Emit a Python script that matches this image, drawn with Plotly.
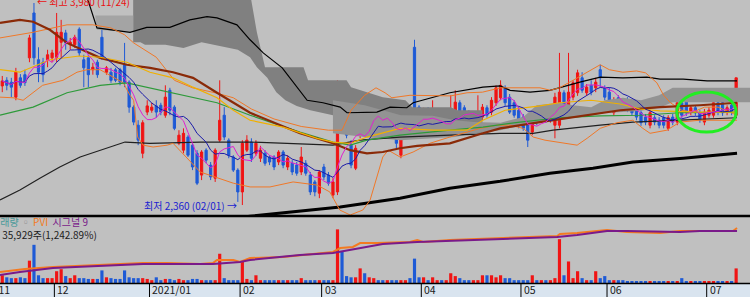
import plotly.graph_objects as go
import pandas as pd

# ---------------- price data (daily candles, index = trading day from 2020-11-13) ----------------
opens = [3315, 3360, 3345, 3225, 3380, 3405, 3540, 3900, 3525, 3505,
         3525, 3540, 3545, 3665, 3740, 3645, 3645, 3770, 3525, 3540,
         3445, 3505, 3705, 3425, 3425, 3445, 3445, 3485, 3345, 3145,
         3000, 2775, 3105, 3120, 3155, 3160, 3080, 3280, 3145, 2855,
         2800, 2905, 2840, 2775, 2600, 2800, 2680, 2575, 2880, 3080,
         2880, 2745, 2640, 2465, 2800, 2865, 2775, 2735, 2775, 2745,
         2745, 2705, 2785, 2665, 2695, 2680, 2625, 2695, 2600, 2545,
         2455, 2665, 2600, 2440, 2465, 3240, 2985, 2840, 2655, 2920,
         3180, 3025, 3060, 3100, 3060, 3000, 3060, 2920, 2760, 2920,
         3080, 3625, 3145, 3040, 3120, 2945, 2975, 3040, 2960, 2935,
         2985, 3180, 3140, 3100, 3020, 3020, 3065, 3140, 3105, 3180,
         3220, 3300, 3225, 3180, 3120, 3065, 3060, 2945, 3065, 3060,
         3065, 3040, 3000, 3000, 3260, 3145, 3225, 3260, 3380, 3260,
         3320, 3300, 3445, 3300, 3265, 3100, 3220, 3185, 3200, 3180,
         3140, 3100, 3065, 3000, 3060, 3040, 3060, 2975, 3065, 3025,
         3180, 3185, 3105, 3140, 3100, 3025, 3080, 3080, 3180, 3180,
         3105, 3160, 3080]
highs = [3395, 3385, 3380, 3460, 3410, 3445, 3725, 3980, 3625, 3540,
         3605, 3605, 3900, 3845, 3765, 3700, 3725, 3785, 3565, 3565,
         3500, 3525, 3780, 3475, 3460, 3460, 3460, 3660, 3360, 3160,
         3040, 3040, 3200, 3180, 3200, 3180, 3320, 3300, 3160, 2960,
         2975, 2920, 2855, 2800, 2800, 2815, 2705, 2815, 3360, 3145,
         2895, 2760, 2655, 2880, 2920, 2895, 2880, 2835, 2800, 2760,
         2760, 2800, 2800, 2760, 2720, 2705, 2825, 2720, 2625, 2560,
         2640, 2690, 2625, 2575, 3360, 3340, 3040, 2880, 2840, 3160,
         3200, 3155, 3140, 3120, 3080, 3105, 3080, 2960, 2960, 3080,
         3105, 3685, 3160, 3140, 3145, 3200, 3065, 3065, 3025, 3240,
         3280, 3200, 3160, 3120, 3105, 3240, 3170, 3160, 3225, 3320,
         3360, 3320, 3250, 3200, 3145, 3090, 3080, 3105, 3090, 3120,
         3090, 3105, 3260, 3580, 3280, 3580, 3360, 3445, 3425, 3330,
         3360, 3380, 3485, 3320, 3300, 3225, 3240, 3210, 3225, 3200,
         3160, 3120, 3090, 3120, 3080, 3065, 3080, 3080, 3090, 3200,
         3200, 3210, 3160, 3160, 3120, 3130, 3145, 3200, 3200, 3200,
         3160, 3185, 3380]
lows = [3265, 3280, 3225, 3200, 3300, 3315, 3505, 3485, 3345, 3345,
        3465, 3505, 3505, 3540, 3605, 3605, 3620, 3555, 3305, 3305,
        3405, 3380, 3525, 3405, 3340, 3345, 3320, 3305, 3100, 3000,
        2840, 2735, 3080, 3100, 3060, 3080, 3060, 3080, 2960, 2840,
        2775, 2745, 2640, 2520, 2560, 2695, 2560, 2545, 2865, 2880,
        2735, 2625, 2385, 2360, 2785, 2705, 2755, 2705, 2675, 2680,
        2640, 2680, 2655, 2640, 2600, 2595, 2600, 2595, 2440, 2430,
        2415, 2560, 2515, 2415, 2440, 3060, 2895, 2655, 2640, 2895,
        2960, 3000, 3025, 2975, 2945, 2975, 2935, 2815, 2735, 2895,
        2945, 3060, 2975, 3020, 3025, 2920, 2945, 2915, 2935, 2915,
        2920, 3080, 3040, 3020, 2995, 2975, 3040, 3060, 3080, 3155,
        3200, 3155, 3090, 3060, 2975, 2955, 2825, 2920, 3000, 3035,
        3020, 3020, 2895, 2975, 3140, 3120, 3200, 3235, 3260, 3235,
        3240, 3265, 3305, 3200, 3180, 3075, 3140, 3120, 3105, 3075,
        3040, 2995, 3000, 2975, 3000, 2975, 2975, 2955, 3000, 3000,
        3060, 3075, 3080, 3075, 3020, 3000, 3060, 3060, 3080, 3075,
        3080, 3080, 3060]
closes = [3355, 3320, 3305, 3425, 3320, 3340, 3700, 3540, 3425, 3405,
          3565, 3580, 3745, 3745, 3660, 3665, 3705, 3580, 3460, 3405,
          3465, 3405, 3540, 3460, 3360, 3360, 3345, 3345, 3145, 3025,
          2880, 3020, 3155, 3145, 3105, 3105, 3225, 3120, 2975, 2920,
          2935, 2760, 2665, 2535, 2785, 2720, 2585, 2800, 3040, 2905,
          2760, 2640, 2465, 2855, 2880, 2735, 2855, 2800, 2695, 2705,
          2665, 2785, 2680, 2735, 2625, 2615, 2745, 2615, 2465, 2465,
          2625, 2585, 2535, 2545, 3040, 3100, 2920, 2680, 2815, 3140,
          3000, 3120, 3105, 3000, 2975, 3080, 2960, 2855, 2935, 3060,
          2975, 3100, 3000, 3105, 3060, 3020, 3040, 2935, 3000, 3060,
          3185, 3105, 3065, 3040, 3080, 3100, 3145, 3080, 3200, 3300,
          3320, 3180, 3105, 3080, 3000, 2975, 2880, 3080, 3025, 3100,
          3040, 3080, 3225, 3265, 3160, 3265, 3340, 3420, 3280, 3305,
          3265, 3345, 3380, 3225, 3200, 3200, 3160, 3145, 3140, 3100,
          3065, 3020, 3025, 3100, 3025, 3000, 3000, 3060, 3025, 3180,
          3080, 3100, 3140, 3100, 3040, 3105, 3120, 3180, 3105, 3100,
          3140, 3105, 3380]
volumes = [19000, 14000, 12000, 12000, 14000, 12000, 55000, 94000, 19000, 12000,
           12000, 12000, 29000, 34000, 17000, 12000, 19000, 12000, 12000, 10000,
           10000, 10000, 31000, 14000, 12000, 10000, 10000, 31000, 14000, 12000,
           12000, 12000, 10000, 7000, 14000, 7000, 10000, 10000, 7000, 10000,
           7000, 7000, 10000, 10000, 7000, 7000, 7000, 7000, 72000, 12000,
           7000, 7000, 7000, 53000, 10000, 7000, 19000, 7000, 7000, 7000,
           7000, 7000, 7000, 7000, 7000, 7000, 12000, 7000, 7000, 7000,
           7000, 7000, 7000, 7000, 132000, 77000, 17000, 14000, 14000, 36000,
           24000, 14000, 12000, 7000, 7000, 7000, 7000, 7000, 7000, 7000,
           12000, 60000, 14000, 14000, 7000, 14000, 7000, 7000, 7000, 24000,
           17000, 12000, 7000, 7000, 7000, 7000, 19000, 19000, 19000, 14000,
           19000, 12000, 12000, 7000, 7000, 7000, 7000, 19000, 7000, 7000,
           7000, 7000, 12000, 108000, 19000, 53000, 12000, 29000, 12000, 7000,
           7000, 29000, 12000, 17000, 7000, 7000, 7000, 7000, 5000, 5000,
           5000, 5000, 5000, 5000, 5000, 5000, 5000, 5000, 5000, 5000,
           12000, 5000, 5000, 5000, 5000, 5000, 5000, 5000, 5000, 5000,
           5000, 5000, 35929]
day_idx = list(range(len(closes)))

# month boundaries (first trading day index of each month) and labels
month_start = [12, 33, 53, 71, 93, 115, 134, 156]
month_labels = ["12", "2021/01", "02", "03", "04", "05", "06", "07"]
first_label = "2020/11"

# ---------------- indicator lines (x = day index, y = price) ----------------
ma20_x = [-0.5, 3.9, 10.5, 17, 21.6, 27.5, 32.6, 37.7, 42.1, 47.4, 51, 54.7, 62, 69.5, 73, 76.8, 80.5,
          87.8, 95.1, 102.6, 106.1, 111, 118.7, 123, 130, 136.4, 140.8, 145.2, 154, 162.2]
ma20_y = [3445, 3425, 3525, 3555, 3545, 3505, 3425, 3380, 3305, 3220, 3120, 3040, 2985, 2895, 2865, 2855, 2905,
          2975, 2960, 2960, 3040, 3120, 3155, 3180, 3200, 3170, 3130, 3115, 3105, 3105]
ma60_x = [-0.5, 6.8, 14.3, 21.6, 27.5, 32.6, 40, 47.4, 54.7, 59, 65.7, 73, 76.8, 80.5, 87.8, 98.8,
          106.1, 114.3, 123, 132, 140.8, 149.6, 162.2]
ma60_y = [3080, 3145, 3260, 3320, 3340, 3300, 3240, 3180, 3080, 3025, 2945, 2865, 2840, 2880, 2920, 2960,
          2985, 3025, 3060, 3075, 3080, 3100, 3105]
ma120_x = [-0.5, 3.9, 6.8, 10.5, 14.3, 21.6, 27.5, 32.6, 37.7, 42.1, 47.4, 51, 54.7, 65.7, 73, 76.8,
           80.5, 84, 87.8, 91.6, 98.8, 106.1, 109.9, 118.7, 127.5, 136.4, 145.2, 154, 162.2]
ma120_y = [3820, 3845, 3830, 3765, 3660, 3540, 3485, 3460, 3425, 3380, 3260, 3180, 3100, 2935, 2855, 2800,
           2775, 2785, 2815, 2835, 2855, 2935, 2975, 3025, 3075, 3120, 3145, 3160, 3180]
bb_up_x = [-0.5, 6.8, 14.3, 20, 24, 27, 29, 34, 38, 42, 47, 51, 55, 60, 66, 72, 75, 77, 80, 82.5,
           84.5, 86, 90, 95, 99, 102.6, 106, 110, 118.7, 121, 123, 126, 129, 132, 134, 137, 140,
           142, 144.5, 146, 147.5, 150, 152.5, 155, 158, 162.2]
bb_up_y = [3700, 3745, 3805, 3805, 3780, 3725, 3660, 3545, 3360, 3300, 3260, 3220, 3130, 3050, 2990, 2960,
           2960, 3120, 3240, 3300, 3260, 3220, 3240, 3240, 3235, 3260, 3265, 3300, 3300, 3280, 3300, 3360,
           3425, 3485, 3445, 3425, 3435, 3420, 3340, 3240, 3180, 3120, 3105, 3145, 3145, 3080]
bb_dn_x = [-0.5, 2.4, 4.6, 6.8, 8.9, 13.4, 16.5, 18.7, 21.6, 26.7, 28.2, 29, 29.9, 31.1, 33.3, 36.4,
           37.7, 43.7, 51, 54.7, 59.1, 64.2, 69.5, 72.3, 74.5, 76.8, 79.6, 81.2, 84, 85.2, 87.8, 90.7,
           94.4, 98.8, 101.7, 105.5, 109.2, 112.1, 115, 117.2, 119.8, 124.7, 126.9, 129.1, 132, 135.7,
           139.2, 141.4, 143, 146.7, 149.6, 154, 162.2]
bb_dn_y = [3225, 3220, 3200, 3260, 3320, 3360, 3425, 3445, 3445, 3340, 3240, 3200, 2905, 2840, 2825, 2840,
           2855, 2625, 2535, 2505, 2505, 2545, 2520, 2465, 2320, 2280, 2320, 2400, 2745, 2800, 2745, 2785,
           2855, 2905, 2935, 2975, 3000, 3000, 2975, 2905, 2880, 2855, 2840, 2895, 2975, 3020,
           3040, 2975, 2935, 2960, 3025, 3040, 3040]
top_line_x = [18.3, 18.9, 20.9, 28.2, 31.9, 37, 41.4, 45.2, 47.4, 51.8, 54.7, 57.6, 61.8, 65.1, 67.3,
              70.8, 74.6, 76.1, 82.7, 85.6, 89.3, 90.7, 98.8, 106.1, 109.9, 112.1, 116.5, 120.9, 124.7,
              127.5, 132, 137, 142.3, 145.2, 150.3, 155.6, 162.2]
top_line_y = [4045, 4005, 3780, 3745, 3785, 3785, 3845, 3870, 3860, 3805, 3685, 3580, 3460, 3305, 3200,
              3180, 3145, 3100, 3105, 3145, 3140, 3180, 3260, 3305, 3315, 3280, 3265, 3280, 3320,
              3345, 3385, 3380, 3385, 3370, 3370, 3355, 3355]
low_line_x = [-0.5, 3.9, 8.3, 12.7, 17.2, 21.6, 27.1, 32.6, 43.7, 54.7, 63.5, 73, 79, 87.8, 98.8, 109.9,
              117.2, 121.6, 132, 139.2, 149.6, 162.2]
low_line_y = [2400, 2480, 2575, 2665, 2745, 2800, 2865, 2855, 2865, 2865, 2855, 2840, 2880, 2905, 2920,
              2935, 2935, 2960, 3000, 3025, 3040, 3060]
long_line_x = [50.3, 54.7, 74.6, 87.8, 98.8, 109.9, 120.9, 130.4, 139.2, 150.3, 162.2]
long_line_y = [2250, 2270, 2345, 2415, 2495, 2550, 2615, 2655, 2705, 2735, 2775]

# cloud (leading spans) outlines
cloud_dark_x = [28.9, 54.5, 56.2, 58, 66.5, 67.5, 76, 77, 84, 89, 90.5, 99, 100.5, 106,
                106, 100, 96, 90, 84, 76, 73, 68, 65, 62.5, 60.5, 58.5, 56.2, 54.7, 52, 47, 44, 40, 36,
                31.5, 30.5, 28.9]
cloud_dark_y = [4100, 4100, 3745, 3465, 3465, 3360, 3360, 3305, 3225, 3200, 3145, 3145, 3120, 3120,
                2935, 2945, 2985, 3040, 3060, 3060, 3080, 3120, 3155, 3200, 3265, 3380, 3465, 3545, 3605,
                3645, 3665, 3620, 3645, 3645, 3665, 3665]
cloud_mid_x = [20.5, 28.9, 28.9, 20.9]
cloud_mid_y = [3880, 3880, 3745, 3765]
cloud_low_x = [73, 80, 88, 95, 100, 104, 110, 115, 118, 123, 126, 130, 133, 137, 141, 145, 148, 165.1,
               165.1, 148, 145, 141, 137, 133, 130, 126, 123, 118, 115, 110, 104, 100, 95, 88, 80, 73]
cloud_low_y = [3200, 3160, 3080, 3075, 3040, 3025, 3020, 3065, 3160, 3180, 3160, 3145, 3200, 3220, 3200,
               3240, 3300, 3300,
               3185, 3185, 3140, 3115, 3105, 3100, 3075, 3060, 3040, 3025, 3000, 2960, 2935, 2905, 2895,
               2880, 2905, 2935]

# PVI and its signal (volume pane)
pvi_x = [-0.5, 5, 11.2, 21.6, 31.1, 36.4, 40.8, 43.7, 46.5, 47.4, 51, 52.5, 54.7, 62, 73, 74.6, 77.4, 79,
         82.7, 90, 91.6, 92.9, 98.8, 109.9, 117.2, 119.4, 122.5, 123.1, 126.9, 131.3, 133.5, 137.9, 145.2,
         149.6, 154, 161.3, 162.2]
pvi_y = [970, 985, 995, 1005, 1015, 1015, 1010, 1010, 1015, 1030, 1030, 1020, 1040, 1045, 1070, 1090, 1095,
         1115, 1115, 1120, 1130, 1120, 1130, 1140, 1145, 1150, 1150, 1160, 1165, 1175, 1180, 1170, 1165,
         1175, 1175, 1175, 1190]
sig_x = [-0.5, 3.9, 11.2, 21.6, 31.1, 46.5, 52.5, 54.7, 65.7, 73, 76.8, 80.5, 84, 91.6, 98.8, 109.9,
         118.7, 122.5, 126.9, 131.3, 133.5, 137.9, 145.2, 149.6, 154, 162.2]
sig_y = [955, 970, 990, 1000, 1010, 1010, 1020, 1030, 1055, 1065, 1080, 1095, 1110, 1120, 1125, 1133,
         1140, 1145, 1155, 1170, 1175, 1175, 1170, 1170, 1175, 1175]

# highlighted zone (hand-drawn circle)
highlight_idx = [148.9, 162.0]
highlight_price = [2945, 3266]

high_idx, high_price, high_date = 7, 3980, "11/24"
low_idx, low_price, low_date = 53, 2360, "02/01"
last_volume_text = "35,929주(1,242.89%)"

RED = "#f01414"
BLUE = "#1e5ad6"
BG = "#c0c0c0"
FONT = "Noto Sans CJK KR"

ma5 = pd.Series(closes).rolling(5, min_periods=1).mean()
ma10 = pd.Series(closes).rolling(10, min_periods=1).mean()

H = 297.0
main_dom = [1 - 215 / H, 1]
vol_dom = [1 - 283 / H, 1 - 218 / H]
xr = [-0.5, 165.06]

fig = go.Figure()


def line(x, y, color, width, yaxis="y", xaxis="x"):
    fig.add_trace(go.Scatter(x=x, y=y, mode="lines", line=dict(color=color, width=width),
                             hoverinfo="skip", xaxis=xaxis, yaxis=yaxis))


# clouds
for cx, cy, col in [(cloud_dark_x, cloud_dark_y, "#808080"), (cloud_mid_x, cloud_mid_y, "#a4a4a4"),
                    (cloud_low_x, cloud_low_y, "#939393")]:
    fig.add_trace(go.Scatter(x=cx, y=cy, fill="toself", fillcolor=col, mode="lines",
                             line=dict(width=0, color=col), hoverinfo="skip"))

# indicator lines
line(long_line_x, long_line_y, "#000000", 3)
line(low_line_x, low_line_y, "#202020", 1.2)
line(top_line_x, top_line_y, "#000000", 1.2)
line(bb_up_x, bb_up_y, "#f07828", 1)
line(bb_dn_x, bb_dn_y, "#f07828", 1)
line(ma60_x, ma60_y, "#2e9a3a", 1.2)
line(ma120_x, ma120_y, "#8a2a08", 2.2)
line(ma20_x, ma20_y, "#f0b000", 1.2)
line(day_idx, ma10, "#1a1aa8", 1)
line(day_idx, ma5, "#e020d0", 1)

# candles
fig.add_trace(go.Candlestick(
    x=day_idx, open=opens, high=highs, low=lows, close=closes,
    increasing=dict(line=dict(color=RED, width=1), fillcolor=RED),
    decreasing=dict(line=dict(color=BLUE, width=1), fillcolor=BLUE),
    whiskerwidth=0, hoverinfo="skip"))

# volume
vol_colors = [RED if c >= o else BLUE for o, c in zip(opens, closes)]
fig.add_trace(go.Bar(x=day_idx, y=volumes, marker=dict(color=vol_colors, line=dict(width=0)),
                     xaxis="x2", yaxis="y2", hoverinfo="skip"))
line(pvi_x, pvi_y, "#f47a20", 2, yaxis="y3", xaxis="x2")
line(sig_x, sig_y, "#7a1a8a", 2, yaxis="y3", xaxis="x2")

ax_common = dict(showgrid=False, zeroline=False, showticklabels=False, showline=False, ticks="",
                 fixedrange=True)
fig.update_layout(
    width=750, height=297, margin=dict(l=0, r=0, t=0, b=0),
    paper_bgcolor=BG, plot_bgcolor=BG, showlegend=False, boxgap=0.3, bargap=0.3,
    xaxis=dict(domain=[0, 1], range=xr, anchor="y", rangeslider=dict(visible=False), **ax_common),
    yaxis=dict(domain=main_dom, range=[2280, 4004], anchor="x", **ax_common),
    xaxis2=dict(domain=[0, 1], range=xr, anchor="y2", matches="x", **ax_common),
    yaxis2=dict(domain=vol_dom, range=[0, 160000], anchor="x2", **ax_common),
    yaxis3=dict(domain=vol_dom, range=[915, 1240], anchor="x2", overlaying="y2", **ax_common),
)

shapes = []
band_top = 1 - 284 / H
shapes.append(dict(type="rect", xref="paper", yref="paper", x0=0, x1=1, y0=0, y1=band_top,
                   fillcolor="#d9e4ef", line=dict(width=0), layer="above"))
shapes.append(dict(type="line", xref="paper", yref="paper", x0=0, x1=1, y0=1 - 283.5 / H, y1=1 - 283.5 / H,
                   line=dict(color="#000000", width=1.5), layer="above"))
shapes.append(dict(type="line", xref="paper", yref="paper", x0=0, x1=1, y0=1 - 216 / H, y1=1 - 216 / H,
                   line=dict(color="#000000", width=2.5), layer="above"))
for ms in month_start:
    shapes.append(dict(type="line", xref="x", yref="paper", x0=ms - 0.5, x1=ms - 0.5, y0=0, y1=band_top,
                       line=dict(color="#000000", width=1), layer="above"))
shapes.append(dict(type="circle", xref="x", yref="y", x0=highlight_idx[0], x1=highlight_idx[1],
                   y0=highlight_price[0], y1=highlight_price[1], line=dict(color="#22ee22", width=3)))
fig.update_layout(shapes=shapes)

ann = []
lab_y = 1 - 289.5 / H
for ms, lab in zip(month_start, month_labels):
    ann.append(dict(x=ms - 0.5, y=lab_y, xref="x", yref="paper", text=lab, showarrow=False,
                    xanchor="left", yanchor="middle", xshift=1,
                    font=dict(family=FONT, size=10.5, color="#202020")))
ann.append(dict(x=12 / 750, y=lab_y, xref="paper", yref="paper", text=first_label, showarrow=False,
                xanchor="right", yanchor="middle", font=dict(family=FONT, size=10.5, color="#202020")))
ann.append(dict(x=high_idx, y=high_price, xref="x", yref="y",
                text=f"← 최고 {high_price:,} ({high_date})", showarrow=False,
                xanchor="left", yanchor="middle", xshift=1, yshift=1,
                font=dict(family=FONT, size=10, color="#e81010")))
ann.append(dict(x=low_idx, y=low_price, xref="x", yref="y",
                text=f"최저 {low_price:,} ({low_date}) →", showarrow=False,
                xanchor="right", yanchor="middle", xshift=-3,
                font=dict(family=FONT, size=10, color="#1a22d0")))
header = ("<span style='color:#4a9a9a'>거래량</span> <span style='color:#909090'>▫</span> "
          "<span style='color:#f47a20'>PVI</span>  <span style='color:#7a1a8a'>시그널 9</span>"
          "<br>&nbsp;&nbsp;&nbsp;&nbsp;&nbsp;" + last_volume_text)
ann.append(dict(x=-11 / 750, y=1 - 227.5 / H, xref="paper", yref="paper", text=header,
                showarrow=False, xanchor="left", yanchor="middle", align="left",
                font=dict(family=FONT, size=10, color="#202020")))
fig.update_layout(annotations=ann)

fig.write_html("out.html")
